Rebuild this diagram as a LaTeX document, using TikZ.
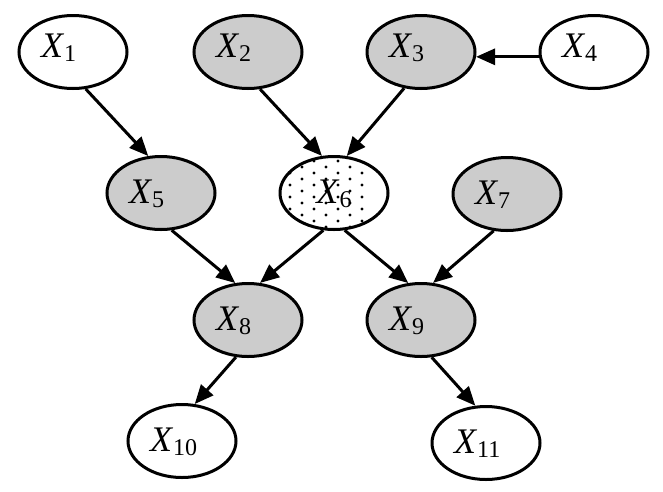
\documentclass[tikz,border=0pt]{standalone}
\usepackage{fontspec}
\setmainfont{Liberation Serif}
\usetikzlibrary{arrows.meta,shapes.geometric}
\newcommand{\xvar}[1]{\textit{X}{\fontsize{24}{24}\selectfont\raisebox{-4pt}{#1}}}

\begin{document}
\begin{tikzpicture}[x=1pt, y=-1pt,
  var/.style={ellipse, draw, line width=3pt, minimum width=108pt, minimum height=73pt,
    inner sep=0pt, text width=64pt, align=left, text height=24pt, text depth=4pt,
    font=\fontsize{36}{40}\selectfont},
  hid/.style={var, fill=black!20},
  toprow/.style={text depth=14pt},
  dotty/.style={var, fill=white, align=center, path picture={
    \foreach \i in {-5,...,5} \foreach \j in {-4,...,4}
      \fill[black, shift={(path picture bounding box.center)}] ({12*\i},{12*\j+6*mod(\i+6,2)}) circle (1.7pt);}},
  edge/.style={line width=3pt, -{Triangle[length=19pt,width=16pt]}}]
  \useasboundingbox (0,0) rectangle (663,491);
  % top row
  \node[var, toprow] (x1) at (73,52) {\xvar{1}};
  \node[hid, toprow] (x2) at (248,52) {\xvar{2}};
  \node[hid, toprow] (x3) at (421,52) {\xvar{3}};
  \node[var, toprow] (x4) at (594,52) {\xvar{4}};
  % second row
  \node[hid] (x5) at (161,193) {\xvar{5}};
  \node[dotty] (x6) at (334,193) {\xvar{6}};
  \node[hid] (x7) at (507,194) {\xvar{7}};
  % third row
  \node[hid] (x8) at (248,320) {\xvar{8}};
  \node[hid] (x9) at (421,320) {\xvar{9}};
  % bottom row
  \node[var] (x10) at (182,441) {\xvar{10}};
  \node[var] (x11) at (486,443) {\xvar{11}};

  \draw[edge] (x1.289) -- (x5.109);
  \draw[edge] (x2.288) -- (x6.108);
  \draw[edge] (x3.245) -- (x6.71);
  \draw[edge] (x4.185) -- (x3.355);
  \draw[edge] (x5.286) -- (x8.109);
  \draw[edge] (x6.254) -- (x8.72);
  \draw[edge] (x6.286) -- (x9.109);
  \draw[edge] (x7.250) -- (x9.72);
  \draw[edge] (x8.252) -- (x10.71);
  \draw[edge] (x9.286) -- (x11.106);
\end{tikzpicture}
\end{document}
